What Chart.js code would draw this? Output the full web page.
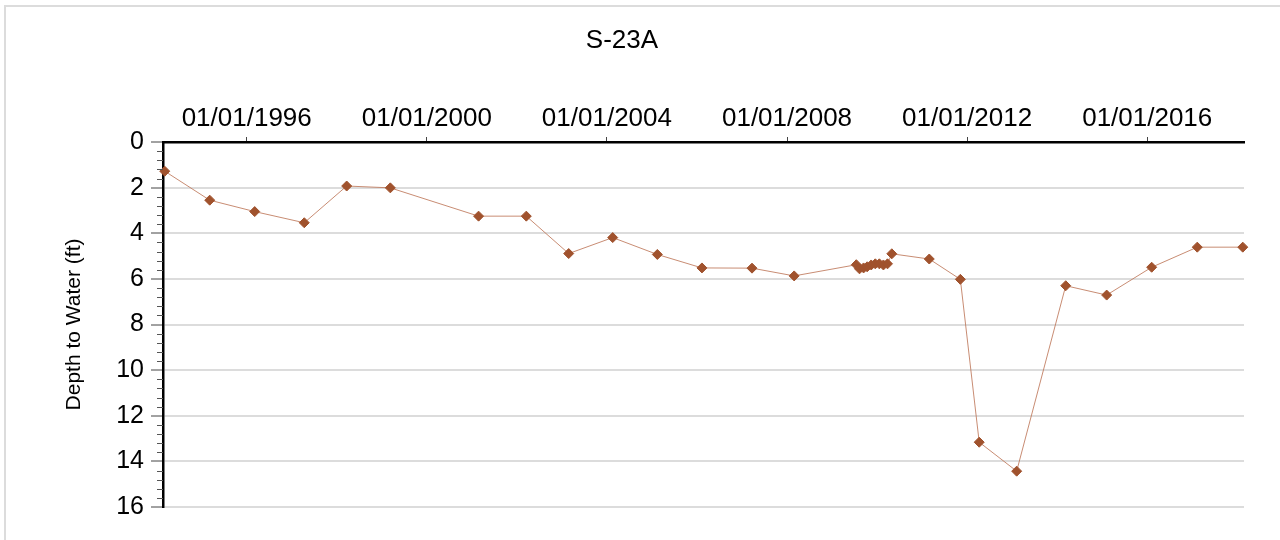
<!DOCTYPE html>
<html>
<head>
<meta charset="utf-8">
<script src="https://cdn.jsdelivr.net/npm/chart.js@4"></script>
<style>
  html, body { margin: 0; padding: 0; background: #fff; overflow: hidden; }
  #frame { position: absolute; left: 4px; top: 5px; width: 1320px; height: 600px; border: 2px solid #dcdcdc; box-sizing: border-box; }
  #wrap { position: absolute; left: 0; top: 0; width: 1280px; height: 540px; }
</style>
</head>
<body>
<div id="frame"></div>
<div id="wrap"><canvas id="c" width="1280" height="540"></canvas></div>
<script>
const chartTitle = 'S-23A';
const yAxisTitle = 'Depth to Water (ft)';
const sampleDates = [
  '1994-03-07','1995-03-07','1996-03-06','1997-04-12','1998-03-22','1999-03-11',
  '2001-02-24','2002-03-18','2003-02-25','2004-02-17','2005-02-13','2006-02-10',
  '2007-03-23','2008-02-28','2009-07-16','2009-08-11','2009-09-13','2009-10-12',
  '2009-11-14','2009-12-17','2010-01-19','2010-02-21','2010-03-26','2010-04-30',
  '2011-02-28','2011-11-07','2012-04-08','2013-02-06','2014-03-11','2015-02-06',
  '2016-02-06','2017-02-10','2018-02-14'
];
const depthValues = [
  1.28, 2.55, 3.05, 3.54, 1.93, 2.01,
  3.25, 3.25, 4.89, 4.19, 4.93, 5.52,
  5.53, 5.87, 5.38, 5.56, 5.52, 5.47,
  5.39, 5.34, 5.34, 5.39, 5.34, 4.90,
  5.13, 6.02, 13.16, 14.43, 6.30, 6.71,
  5.49, 4.61, 4.61
];
const xTickYears = [1996, 2000, 2004, 2008, 2012, 2016];
const xRange = ['1994-02-21', '2018-02-24'];
const yTickValues = [0, 2, 4, 6, 8, 10, 12, 14, 16];
const yMinorStep = 0.4;

const toMs = s => Date.parse(s + 'T00:00:00Z');
const points = sampleDates.map((d, i) => ({ x: toMs(d), y: depthValues[i] }));
const pad2 = n => (n < 10 ? '0' : '') + n;
const fmtDate = v => { const d = new Date(v); return pad2(d.getUTCMonth() + 1) + '/' + pad2(d.getUTCDate()) + '/' + d.getUTCFullYear(); };

const minorTicks = {
  id: 'minorTicks',
  afterDraw(chart) {
    const y = chart.scales.y, ctx = chart.ctx;
    const x0 = chart.chartArea.left;
    ctx.save();
    ctx.strokeStyle = '#555';
    ctx.lineWidth = 1;
    const n = Math.round((y.max - y.min) / yMinorStep);
    for (let i = 0; i <= n; i++) {
      const v = y.min + i * yMinorStep;
      if (Math.abs(v / 2 - Math.round(v / 2)) < 1e-6) continue;
      const py = Math.round(y.getPixelForValue(v)) + 0.5;
      ctx.beginPath();
      ctx.moveTo(x0 - 6, py);
      ctx.lineTo(x0, py);
      ctx.stroke();
    }
    ctx.restore();
  }
};

Chart.defaults.font.family = '"Liberation Sans", Arial, sans-serif';
Chart.defaults.color = '#000';

new Chart(document.getElementById('c'), {
  type: 'line',
  data: {
    datasets: [{
      data: points,
      borderColor: 'rgba(190,120,90,0.85)',
      borderWidth: 1,
      pointStyle: 'rectRot',
      pointRadius: 5,
      pointBackgroundColor: '#A0522D',
      pointBorderColor: '#A0522D',
      pointBorderWidth: 1,
      tension: 0,
      clip: false
    }]
  },
  options: {
    responsive: false,
    animation: false,
    events: [],
    layout: { padding: { left: 0, top: 0, right: 36, bottom: 33 } },
    plugins: {
      legend: { display: false },
      tooltip: { enabled: false },
      title: {
        display: true,
        text: chartTitle,
        font: { size: 26, weight: 'normal' },
        color: '#000',
        padding: { top: 25, bottom: 0 }
      }
    },
    scales: {
      x: {
        type: 'linear',
        position: 'top',
        min: toMs(xRange[0]),
        max: toMs(xRange[1]),
        afterBuildTicks: s => { s.ticks = xTickYears.map(yr => ({ value: Date.UTC(yr, 0, 1) })); },
        afterFit: s => { s.height = 142 - 56.2; },
        ticks: { callback: v => fmtDate(v), font: { size: 26 }, color: '#000', padding: 3, maxRotation: 0, autoSkip: false },
        grid: { drawOnChartArea: false, drawTicks: true, tickLength: 5, tickColor: '#444', tickWidth: 1 },
        border: { display: true, color: '#000', width: 2.5 }
      },
      y: {
        type: 'linear',
        reverse: true,
        min: 0,
        max: 16,
        afterBuildTicks: s => { s.ticks = yTickValues.map(v => ({ value: v })); },
        afterFit: s => { s.width = 163; },
        ticks: { font: { size: 25 }, color: '#000', padding: 7 },
        grid: {
          color: c => (c.tick && c.tick.value === 0 ? 'rgba(0,0,0,0)' : '#dcdcdc'),
          lineWidth: 2,
          drawTicks: true,
          tickLength: 12,
          tickColor: '#444',
          tickWidth: 1
        },
        border: { display: true, color: '#000', width: 2.5 },
        title: {
          display: true,
          text: yAxisTitle,
          font: { size: 21 },
          color: '#000',
          padding: { top: 62, bottom: 0 }
        }
      }
    }
  },
  plugins: [minorTicks]
});
</script>
</body>
</html>
